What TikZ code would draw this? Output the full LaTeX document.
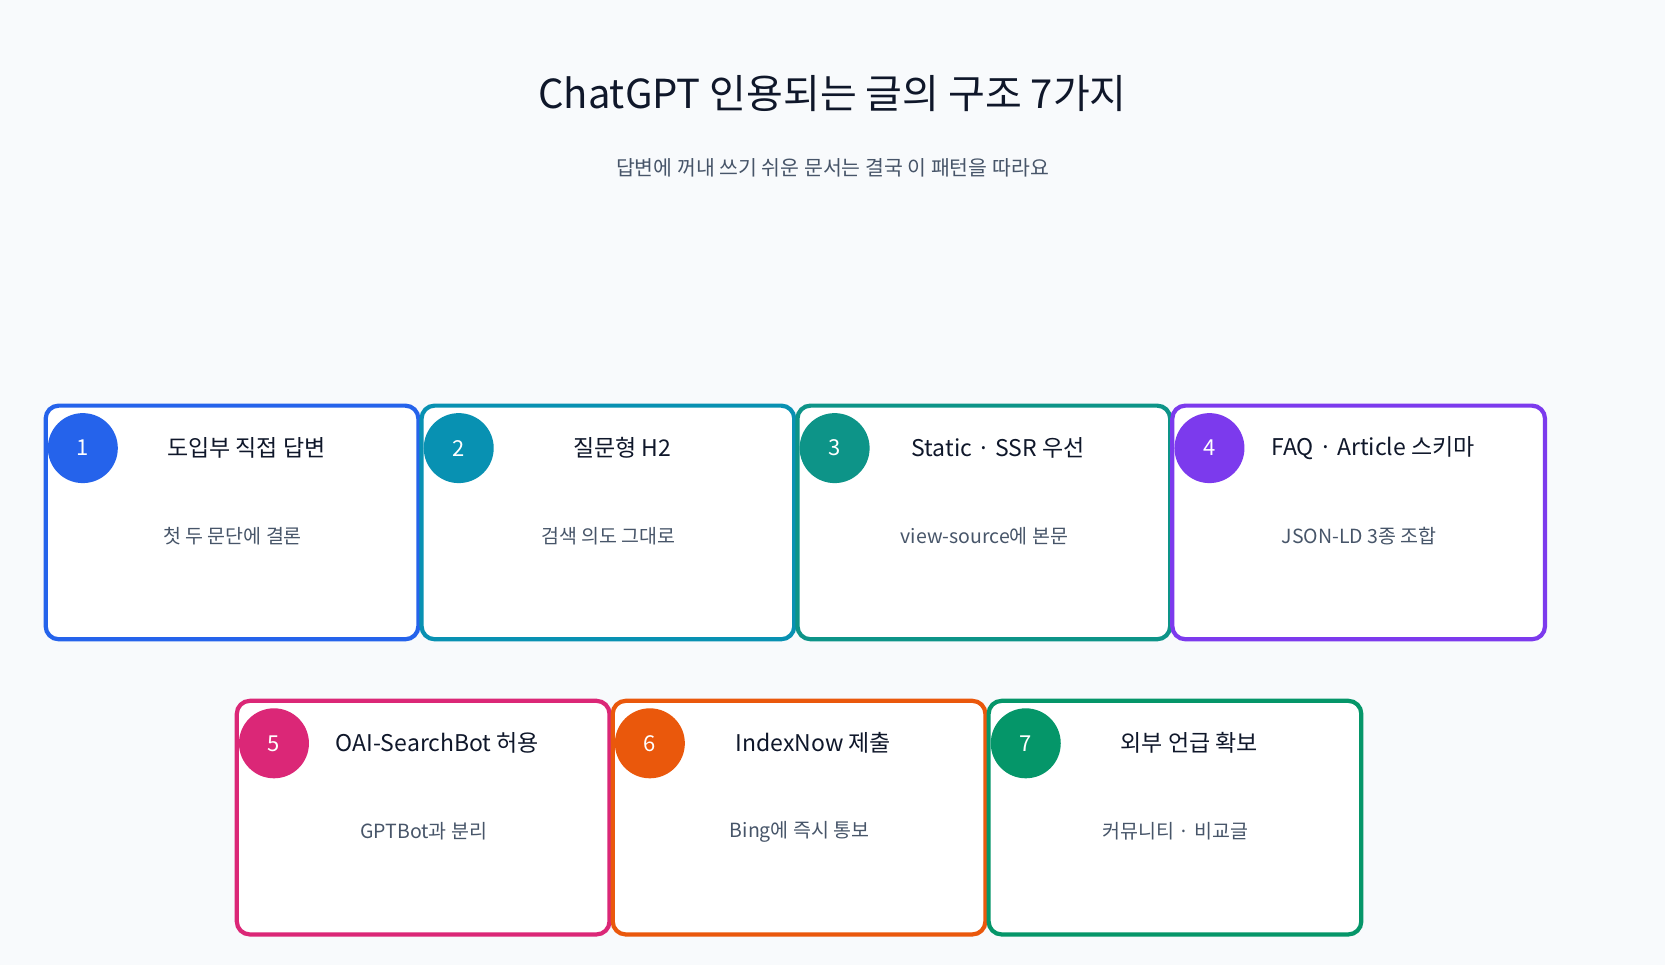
\documentclass[tikz,border=0pt]{standalone}
\usepackage{fontspec}
\setmainfont{Noto Sans CJK KR}
\definecolor{bg}{HTML}{F8FAFC}
\definecolor{ink}{HTML}{0F172A}
\definecolor{sub}{HTML}{475569}
\definecolor{cA}{HTML}{2563EB}
\definecolor{cB}{HTML}{0891B2}
\definecolor{cC}{HTML}{0D9488}
\definecolor{cD}{HTML}{7C3AED}
\definecolor{cE}{HTML}{DB2777}
\definecolor{cF}{HTML}{EA580C}
\definecolor{cG}{HTML}{059669}
\begin{document}
\begin{tikzpicture}[x=1.062pt,y=-1.062pt,
 card/.style={draw=#1,line width=4.2pt,rounded corners=13pt,fill=white},
 badge/.style={circle,fill=#1,minimum size=70pt,inner sep=0pt,text=white,font=\fontsize{22}{26}\selectfont},
 ctitle/.style={text=ink,font=\fontsize{23}{27}\selectfont},
 csub/.style={text=sub,font=\fontsize{19.5}{23}\selectfont}]
\fill[bg] (0,0) rectangle (1568,909);
\useasboundingbox (0,0) rectangle (1568,909);
\node[text=ink,font=\fontsize{40}{46}\selectfont] (title) at (784,88) {ChatGPT 인용되는 글의 구조 7가지};
\node[text=sub,font=\fontsize{20.5}{25}\selectfont] (subtitle) at (784,158) {답변에 꺼내 쓰기 쉬운 문서는 결국 이 패턴을 따라요};
\newcommand{\mycard}[6]{%
 \draw[card=#4] (#2,#3) rectangle ++(351,220);
 \node[badge=#4] (b#1) at ({#2+35},{#3+40}) {#1};
 \node[ctitle] (t#1) at ({#2+189},{#3+40}) {#5};
 \node[csub] (s#1) at ({#2+176},{#3+123}) {#6};}
\mycard{1}{43}{382}{cA}{도입부 직접 답변}{첫 두 문단에 결론}
\mycard{2}{397}{382}{cB}{질문형 H2}{검색 의도 그대로}
\mycard{3}{751}{382}{cC}{Static · SSR 우선}{view-source에 본문}
\mycard{4}{1104}{382}{cD}{FAQ · Article 스키마}{JSON-LD 3종 조합}
\mycard{5}{223}{660}{cE}{OAI-SearchBot 허용}{GPTBot과 분리}
\mycard{6}{577}{660}{cF}{IndexNow 제출}{Bing에 즉시 통보}
\mycard{7}{931}{660}{cG}{외부 언급 확보}{커뮤니티 · 비교글}
\end{tikzpicture}
\end{document}
